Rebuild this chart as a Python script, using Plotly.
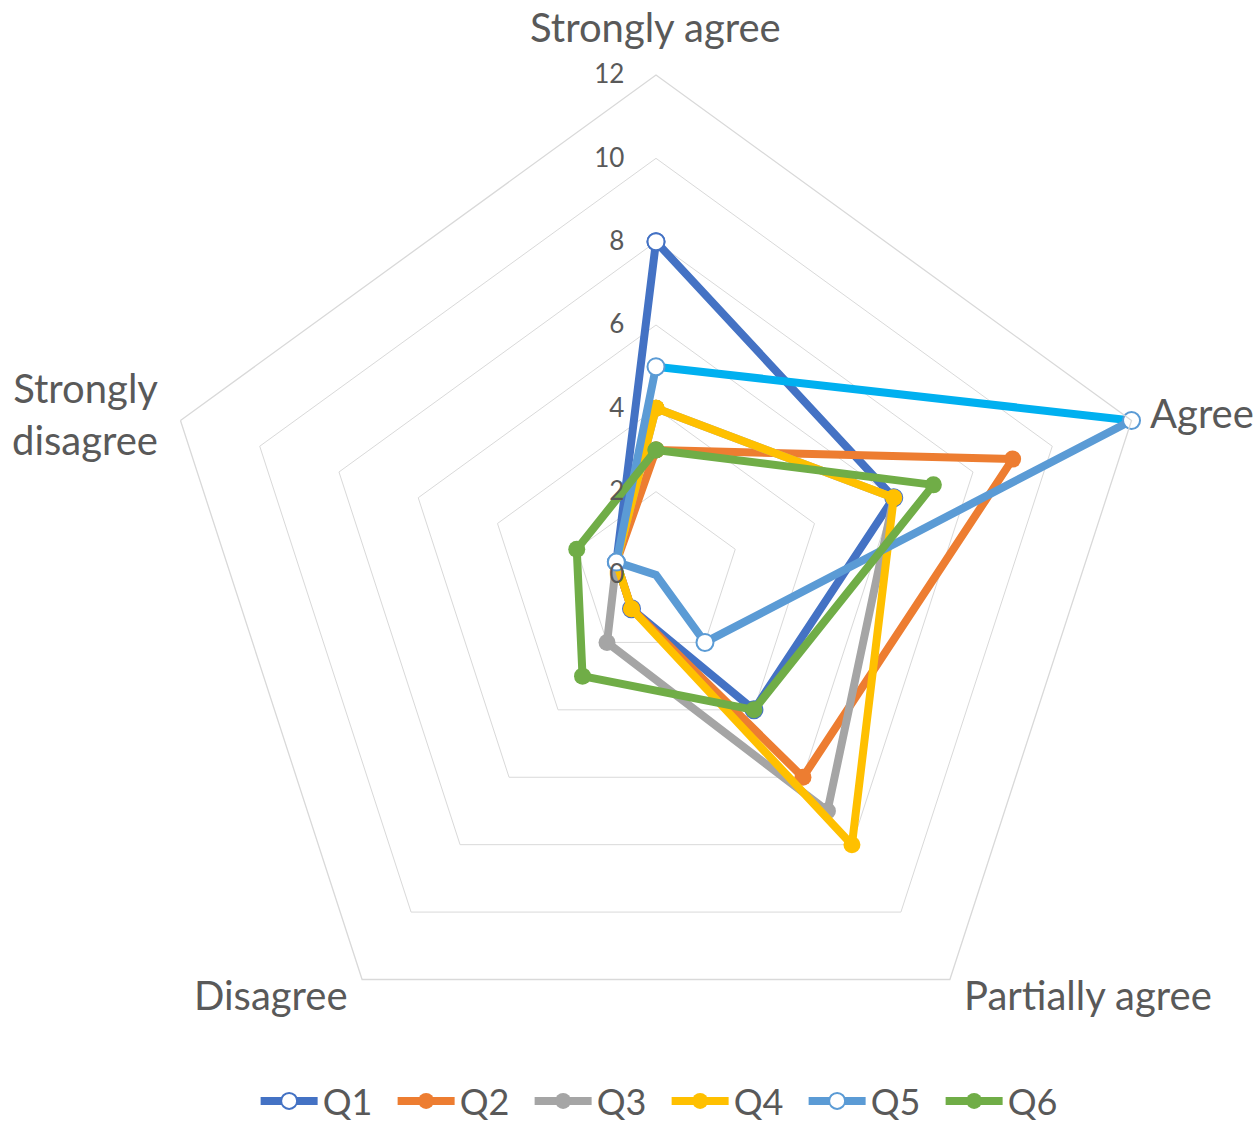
import plotly.graph_objects as go

categories = ["Strongly agree", "Agree", "Partially agree", "Disagree", "Strongly disagree"]
category_labels = ["Strongly agree", "Agree", "Partially agree", "Disagree", "Strongly<br>disagree"]
series_names = ["Q1", "Q2", "Q3", "Q4", "Q5", "Q6"]

q1 = [8, 6, 4, 1, 1]
q2 = [3, 9, 6, 1, 1]
q3 = [4, 6, 7, 2, 1]
q4 = [4, 6, 8, 1, 1]
q5 = [5, 12, 2, 0, 1]
q6 = [3, 7, 4, 3, 2]

radial_ticks = [0, 2, 4, 6, 8, 10, 12]

colors = ["#4472C4", "#ED7D31", "#A5A5A5", "#FFC000", "#5B9BD5", "#70AD47"]
hollow = [True, False, False, False, True, False]
q5_highlight_color = "#00B0F0"

series_values = [q1, q2, q3, q4, q5, q6]
FONT = "Lato"
TXT = "#595959"

W, H = 1254, 1122


def sx(x):
    return x / W


def sy(y):
    return 1 - y / H


fig = go.Figure()
for i, (name, vals) in enumerate(zip(series_names, series_values)):
    col = colors[i]
    marker = dict(size=17, color="white" if hollow[i] else col,
                  line=dict(color=col, width=2 if hollow[i] else 0))
    if name == "Q5":
        # segment Strongly agree -> Agree drawn in brighter blue (as in the original)
        fig.add_trace(go.Scatterpolar(
            r=[vals[0], vals[1]], theta=[categories[0], categories[1]],
            mode="lines", line=dict(color=q5_highlight_color, width=8),
            showlegend=False, hoverinfo="skip"))
        order = [1, 2, 3, 4, 0]
        r = [vals[k] for k in order]
        th = [categories[k] for k in order]
    else:
        r = vals + [vals[0]]
        th = categories + [categories[0]]
    fig.add_trace(go.Scatterpolar(
        r=r, theta=th, mode="lines+markers", name=name,
        line=dict(color=col, width=8), marker=marker))

cx, cy, R = 656, 575, 500
fig.update_layout(
    width=W, height=H,
    margin=dict(l=0, r=0, t=0, b=0, autoexpand=False),
    paper_bgcolor="white",
    font=dict(family=FONT, color=TXT),
    polar=dict(
        domain=dict(x=[sx(cx - R), sx(cx + R)], y=[sy(cy + R), sy(cy - R)]),
        bgcolor="white",
        gridshape="linear",
        radialaxis=dict(range=[0, 12], tickvals=radial_ticks, ticktext=[str(t) for t in radial_ticks],
                        showline=False, ticks="outside", ticklen=22, tickcolor="rgba(0,0,0,0)",
                        angle=90, side="counterclockwise", tickangle=90,
                        gridcolor="#D9D9D9", gridwidth=1.3,
                        tickfont=dict(size=26, color=TXT, family=FONT)),
        angularaxis=dict(type="category", categoryarray=categories, rotation=90, direction="clockwise",
                         showticklabels=False,
                         showgrid=False, showline=True, linecolor="#D9D9D9", linewidth=1.3,
                         ticks=""),
    ),
    legend=dict(orientation="h", x=0.5316, xanchor="center", y=sy(1101), yanchor="middle",
                font=dict(size=36, color=TXT, family=FONT),
                entrywidth=65, entrywidthmode="pixels", itemwidth=57),
)

# category labels placed like the original chart
label_pos = {
    "Strongly agree": (655, 27, "center"),
    "Agree": (1148, 413, "left"),
    "Partially agree": (962, 995, "left"),
    "Disagree": (350, 995, "right"),
    "Strongly disagree": (160, 414, "right"),
}
for cat, lab in zip(categories, category_labels):
    x, y, al = label_pos[cat]
    fig.add_annotation(text=lab, x=sx(x), y=sy(y), xref="paper", yref="paper",
                       xanchor=al, yanchor="middle", align=al, showarrow=False,
                       font=dict(size=40, color=TXT, family=FONT))

fig.write_html("out.html", config={"displayModeBar": False},
               post_script="document.body.style.margin='0px';")
